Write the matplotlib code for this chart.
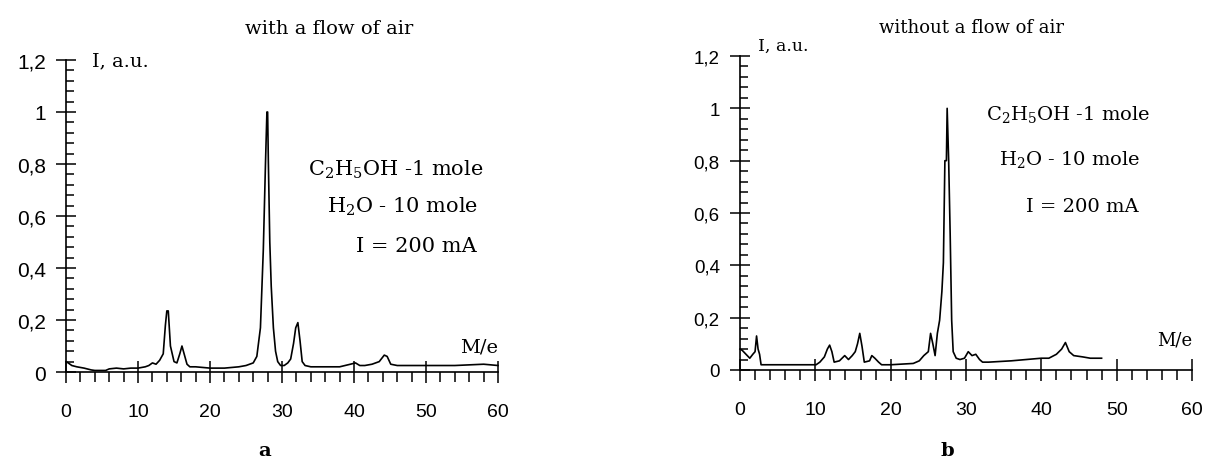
import matplotlib
matplotlib.use('Agg')
import matplotlib.pyplot as plt
from matplotlib.ticker import MultipleLocator, FixedLocator, FixedFormatter

# y ticks (comma decimals as in the original)
y_ticks = [0, 0.2, 0.4, 0.6, 0.8, 1.0, 1.2]
y_tick_labels = ['0', '0,2', '0,4', '0,6', '0,8', '1', '1,2']
x_ticks = [0, 10, 20, 30, 40, 50, 60]

# panel a: with a flow of air
a_me = [0, 0.3, 0.8, 1.5, 2.5, 3.5, 4, 5.5, 6, 7,
        8, 9, 10, 11, 11.5, 12, 12.5, 13, 13.5, 13.8,
        14.0, 14.2, 14.5, 15.0, 15.4, 15.8, 16.1, 16.4, 16.8, 17.2,
        18, 20, 22, 24, 25, 26, 26.5, 27.0, 27.4, 27.7,
        27.9, 28.0, 28.1, 28.3, 28.5, 28.8, 29.1, 29.4, 29.8, 30.3,
        30.8, 31.2, 31.6, 31.9, 32.2, 32.5, 32.8, 33.2, 34, 36,
        38, 39.5, 40.2, 40.8, 41.5, 42.5, 43.5, 44.2, 44.6, 45.1,
        46, 48, 50, 54, 58, 60]
a_int = [0.04, 0.035, 0.025, 0.02, 0.015, 0.008, 0.006, 0.006, 0.012, 0.015,
         0.012, 0.015, 0.015, 0.02, 0.025, 0.035, 0.03, 0.045, 0.07, 0.18,
         0.235, 0.235, 0.1, 0.04, 0.035, 0.07, 0.1, 0.07, 0.03, 0.02,
         0.02, 0.015, 0.015, 0.02, 0.025, 0.035, 0.06, 0.17, 0.47, 0.8,
         1.0, 1.0, 0.81, 0.5, 0.33, 0.17, 0.08, 0.04, 0.025, 0.025,
         0.035, 0.05, 0.11, 0.17, 0.19, 0.12, 0.04, 0.025, 0.02, 0.02,
         0.02, 0.03, 0.035, 0.025, 0.025, 0.03, 0.04, 0.065, 0.06, 0.03,
         0.025, 0.025, 0.025, 0.025, 0.03, 0.025]

# panel b: without a flow of air
b_me = [0, 0.3, 0.8, 1.3, 1.7, 2.0, 2.2, 2.4, 2.6, 2.8,
        5, 8, 10.1, 10.6, 11.2, 11.6, 11.9, 12.2, 12.5, 13.2,
        13.9, 14.4, 14.9, 15.3, 15.6, 15.9, 16.2, 16.5, 17.2, 17.5,
        17.9, 18.4, 18.8, 20, 23, 23.8, 24.4, 25.0, 25.3, 25.6,
        25.9, 26.2, 26.5, 26.8, 27.0, 27.2, 27.4, 27.5, 27.7, 27.9,
        28.1, 28.3, 28.7, 29.2, 29.8, 30.3, 30.8, 31.3, 31.8, 32.2,
        33, 36, 38, 40, 41, 42, 42.7, 43.2, 43.7, 44.3,
        45.5, 46.5, 48]
b_int = [0.08, 0.075, 0.06, 0.045, 0.06, 0.07, 0.13, 0.08, 0.06, 0.02,
         0.02, 0.02, 0.02, 0.03, 0.05, 0.08, 0.095, 0.07, 0.03, 0.035,
         0.055, 0.04, 0.055, 0.07, 0.1, 0.14, 0.09, 0.03, 0.035, 0.055,
         0.045, 0.03, 0.02, 0.02, 0.025, 0.035, 0.055, 0.07, 0.14, 0.1,
         0.055, 0.14, 0.19, 0.3, 0.41, 0.8, 0.8, 1.0, 0.8, 0.52,
         0.19, 0.07, 0.045, 0.04, 0.045, 0.07, 0.055, 0.06, 0.04, 0.03,
         0.03, 0.035, 0.04, 0.045, 0.045, 0.06, 0.08, 0.105, 0.07, 0.055,
         0.05, 0.045, 0.045]

conditions = ['C$_2$H$_5$OH -1 mole', 'H$_2$O - 10 mole', 'I = 200 mA']

plt.rcParams['font.family'] = 'DejaVu Serif'
plt.rcParams['mathtext.fontset'] = 'dejavuserif'


def style_axes(ax, ytick_size, xpad, ypad):
    ax.spines['top'].set_visible(False)
    ax.spines['right'].set_visible(False)
    for s in ('left', 'bottom'):
        ax.spines[s].set_linewidth(1.2)
    ax.set_xlim(0, 60)
    ax.set_ylim(0, 1.2)
    ax.xaxis.set_major_locator(FixedLocator(x_ticks))
    ax.xaxis.set_minor_locator(MultipleLocator(2))
    ax.yaxis.set_major_locator(FixedLocator(y_ticks))
    ax.yaxis.set_major_formatter(FixedFormatter(y_tick_labels))
    ax.yaxis.set_minor_locator(MultipleLocator(0.04))
    ax.tick_params(axis='x', which='major', direction='inout', length=16, width=1.1, pad=xpad)
    ax.tick_params(axis='x', which='minor', direction='out', length=7, width=1.1)
    ax.tick_params(axis='y', which='major', direction='inout', length=15, width=1.1, pad=ypad)
    ax.tick_params(axis='y', which='minor', direction='in', length=6, width=1.1)
    for lab in ax.get_xticklabels():
        lab.set_fontfamily('Liberation Sans')
        lab.set_fontsize(14)
    for lab in ax.get_yticklabels():
        lab.set_fontfamily('Liberation Sans')
        lab.set_fontsize(ytick_size)


fig = plt.figure(figsize=(12.05, 4.6), dpi=100)

ax1 = fig.add_axes([0.0548, 0.1891, 0.3585, 0.6783])
ax1.plot(a_me, a_int, color='black', lw=1.2, clip_on=False)
style_axes(ax1, 15, 14, 7)
ax1.text(3.6, 1.2, 'I, a.u.', fontsize=14, va='center', ha='left')
ax1.text(60, 0.1, 'M/e', fontsize=14, va='center', ha='right')
ax1.text(45.8, 0.758, conditions[0], fontsize=15, ha='center', va='baseline')
ax1.text(46.7, 0.615, conditions[1], fontsize=15, ha='center', va='baseline')
ax1.text(48.7, 0.465, conditions[2], fontsize=15, ha='center', va='baseline')

ax2 = fig.add_axes([0.6141, 0.1935, 0.3751, 0.6826])
ax2.plot(b_me, b_int, color='black', lw=1.2, clip_on=False)
style_axes(ax2, 13.5, 14, 7)
ax2.text(2.4, 1.24, 'I, a.u.', fontsize=12.5, va='center', ha='left')
ax2.text(60, 0.115, 'M/e', fontsize=13, va='center', ha='right')
ax2.text(43.6, 0.958, conditions[0], fontsize=14, ha='center', va='baseline')
ax2.text(43.7, 0.786, conditions[1], fontsize=14, ha='center', va='baseline')
ax2.text(45.4, 0.607, conditions[2], fontsize=14, ha='center', va='baseline')

fig.text(0.273, 0.926, 'with a flow of air', fontsize=14, ha='center', va='baseline')
fig.text(0.806, 0.928, 'without a flow of air', fontsize=13, ha='center', va='baseline')
fig.text(0.22, 0.008, 'a', fontsize=14, fontweight='bold', ha='center', va='baseline')
fig.text(0.786, 0.008, 'b', fontsize=14, fontweight='bold', ha='center', va='baseline')

fig.savefig('out.png', dpi=100, facecolor='white')
